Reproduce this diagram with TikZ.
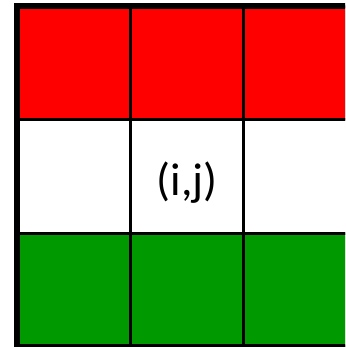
\documentclass[tikz,border=0pt]{standalone}
\usepackage{fontspec}
\setmainfont{Carlito}
\usepackage{tikz}
\usetikzlibrary{positioning}
\definecolor{toprowcolor}{RGB}{255, 0, 0}
\definecolor{midrowcolor}{RGB}{255, 255, 255}
\definecolor{botrowcolor}{RGB}{0, 153, 0}
\definecolor{gridcolor}{RGB}{0, 0, 0}
\tikzset{
cell/.style={
  draw=gridcolor,
  line width=3pt,
  minimum size=113.4pt,
  inner sep=0pt,
  outer sep=0pt
},
gridframe/.style={
  draw=gridcolor,
  line width=6pt
},
celltext/.style={
  font=\fontsize{46}{50}\selectfont,
  text=black
}
}

\begin{document}
\begin{tikzpicture}[x=1pt,y=-1pt]
\useasboundingbox (0,0) rectangle (345,347);
\clip (0,0) rectangle (345,347);
% rows of cells
\foreach \r/\rowcol in {1/toprowcolor,2/midrowcolor,3/botrowcolor}{
  \foreach \c in {1,2,3}{
    \node[cell, fill=\rowcol] (c-\r-\c) at ({17+113.4*(\c-0.5)},{6.5+113.4*(\r-0.5)}) {};
  }
}
\draw[gridframe] (c-1-1.north west) rectangle (c-3-3.south east);
\node[celltext, yshift=-6pt] (ij) at (c-2-2) {(i,j)};
\end{tikzpicture}
\end{document}
